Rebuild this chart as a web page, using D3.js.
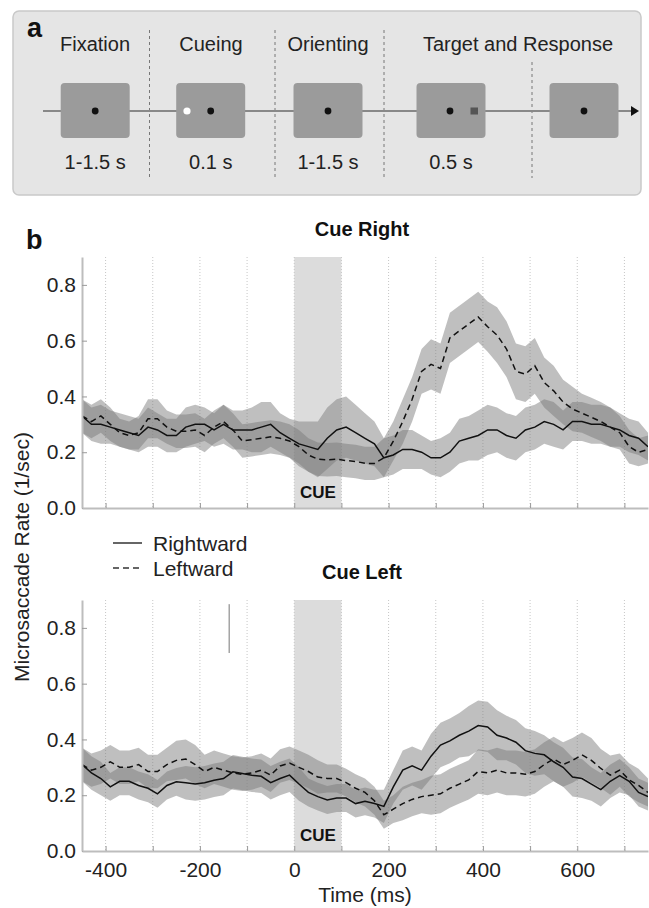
<!DOCTYPE html>
<html>
<head>
<meta charset="utf-8">
<script src="https://cdn.jsdelivr.net/npm/d3@7/dist/d3.min.js"></script>
<style>
  body { margin: 0; background: #fff; }
  svg { font-family: "Liberation Sans", Arial, sans-serif; }
</style>
</head>
<body>
<script>
// time grid (ms), 20 ms steps from -450 to 750
var times = d3.range(-450, 751, 20);

// Cue Right: mean rates and band half widths (1/sec)
var cueRightRightward = [0.33,0.30,0.30,0.29,0.28,0.27,0.26,0.29,0.28,0.26,0.26,0.29,0.30,0.30,0.28,0.30,0.28,0.28,
  0.28,0.29,0.30,0.27,0.25,
  0.23,0.22,0.21,0.25,0.28,0.29,0.27,0.25,0.23,0.18,
  0.19,0.21,0.21,0.20,0.18,0.18,0.20,0.24,0.25,0.26,
  0.28,0.28,0.26,0.25,0.28,0.29,0.31,0.30,0.28,0.31,
  0.31,0.30,0.30,0.29,0.28,0.26,0.25,0.22];
var cueRightLeftward = [0.33,0.31,0.33,0.30,0.27,0.26,0.27,0.32,0.32,0.29,0.275,0.275,0.28,0.26,0.29,0.31,0.28,0.24,
  0.245,0.25,0.255,0.25,0.24,
  0.22,0.19,0.175,0.173,0.175,0.17,0.167,0.16,0.16,0.18,
  0.24,0.31,0.39,0.49,0.515,0.50,0.61,0.635,0.66,0.685,
  0.65,0.62,0.57,0.49,0.48,0.51,0.45,0.42,0.38,0.355,
  0.34,0.325,0.31,0.29,0.27,0.22,0.20,0.21];
var cueRightRightwardErr = [0.06,0.06,0.07,0.06,0.06,0.06,0.06,0.07,0.06,0.06,0.06,0.07,0.07,0.06,0.06,0.07,0.07,0.07,
  0.08,0.09,0.08,0.07,0.07,
  0.08,0.09,0.10,0.11,0.11,0.11,0.10,0.09,0.08,0.07,
  0.07,0.07,0.07,0.06,0.06,0.07,0.07,0.08,0.08,0.09,
  0.09,0.08,0.08,0.08,0.08,0.08,0.08,0.08,0.07,0.07,
  0.07,0.07,0.07,0.07,0.06,0.06,0.06,0.05];
var cueRightLeftwardErr = [0.06,0.06,0.06,0.06,0.05,0.05,0.06,0.07,0.07,0.06,0.06,0.06,0.06,0.06,0.06,0.06,0.06,0.06,
  0.06,0.06,0.06,0.06,0.06,
  0.06,0.06,0.06,0.06,0.06,0.06,0.06,0.06,0.06,0.07,
  0.07,0.08,0.08,0.08,0.09,0.09,0.09,0.09,0.09,0.09,
  0.09,0.10,0.10,0.10,0.10,0.10,0.09,0.09,0.08,0.08,
  0.07,0.07,0.07,0.07,0.06,0.06,0.05,0.05];

// Cue Left
var cueLeftRightward = [0.31,0.28,0.26,0.23,0.25,0.25,0.235,0.225,0.205,0.235,0.248,0.245,0.24,0.245,0.254,0.26,0.284,0.278,
  0.272,0.268,0.245,0.26,0.272,
  0.24,0.21,0.195,0.183,0.19,0.19,0.17,0.178,0.17,0.16,
  0.23,0.29,0.305,0.29,0.34,0.38,0.395,0.415,0.43,0.45,
  0.445,0.415,0.405,0.39,0.36,0.35,0.345,0.32,0.30,0.265,
  0.26,0.24,0.22,0.25,0.27,0.25,0.21,0.195];
var cueLeftLeftward = [0.31,0.29,0.30,0.32,0.30,0.30,0.31,0.285,0.285,0.31,0.325,0.33,0.31,0.285,0.30,0.29,0.28,0.275,
  0.28,0.29,0.272,0.305,0.315,
  0.30,0.285,0.265,0.26,0.26,0.245,0.225,0.21,0.18,0.13,
  0.15,0.17,0.185,0.195,0.20,0.205,0.225,0.24,0.255,0.285,
  0.28,0.29,0.28,0.28,0.275,0.285,0.31,0.33,0.31,0.325,
  0.345,0.325,0.296,0.272,0.29,0.255,0.235,0.21];
var cueLeftRightwardErr = [0.06,0.06,0.06,0.05,0.05,0.05,0.05,0.05,0.05,0.05,0.05,0.06,0.06,0.06,0.06,0.06,0.06,0.06,
  0.06,0.06,0.06,0.06,0.06,
  0.06,0.05,0.05,0.05,0.05,0.05,0.05,0.05,0.05,0.06,
  0.06,0.07,0.07,0.07,0.08,0.08,0.08,0.08,0.09,0.09,
  0.09,0.09,0.08,0.08,0.08,0.08,0.07,0.07,0.07,0.07,
  0.07,0.06,0.06,0.06,0.06,0.05,0.05,0.05];
var cueLeftLeftwardErr = [0.06,0.06,0.06,0.06,0.06,0.06,0.06,0.06,0.06,0.06,0.07,0.07,0.07,0.06,0.06,0.06,0.06,0.06,
  0.06,0.06,0.06,0.06,0.06,
  0.06,0.06,0.06,0.05,0.05,0.05,0.05,0.05,0.05,0.05,
  0.05,0.06,0.06,0.06,0.07,0.07,0.07,0.07,0.07,0.08,
  0.08,0.08,0.08,0.08,0.08,0.08,0.08,0.08,0.08,0.08,
  0.08,0.08,0.07,0.07,0.06,0.06,0.06,0.05];

var xTickLabels = [-400, -200, 0, 200, 400, 600];
var gridTimes = [-400, -300, -200, -100, 0, 100, 200, 300, 400, 500, 600, 700];
var yTicks = [0, 0.2, 0.4, 0.6, 0.8];
var cueWindow = [0, 100];

// panel a
var phaseNames = ["Fixation", "Cueing", "Orienting", "Target and Response"];
var durations = ["1-1.5 s", "0.1 s", "1-1.5 s", "0.5 s", ""];

var width = 649, height = 908;
var svg = d3.select("body").append("svg")
  .attr("width", width)
  .attr("height", height);

// ---------- panel a : trial sequence ----------
var pa = svg.append("g");
pa.append("rect")
  .attr("x", 13).attr("y", 11).attr("width", 628).attr("height", 184)
  .attr("rx", 6)
  .attr("fill", "#e5e5e5").attr("stroke", "#c9c9c9").attr("stroke-width", 1.5);
pa.append("text").attr("x", 27).attr("y", 37)
  .attr("font-size", 27).attr("font-weight", "bold").attr("fill", "#111").text("a");

var phaseX = [95, 211, 328, 518];
pa.selectAll(".phase").data(phaseNames).enter().append("text")
  .attr("x", function(d, i) { return phaseX[i]; })
  .attr("y", 51)
  .attr("text-anchor", "middle").attr("font-size", 20).attr("fill", "#222")
  .text(function(d) { return d; });

var sepX = [149.5, 275, 384, 532];
pa.selectAll(".sep").data(sepX).enter().append("line")
  .attr("x1", function(d) { return d; }).attr("x2", function(d) { return d; })
  .attr("y1", function(d, i) { return i == 3 ? 62 : 30; }).attr("y2", 178)
  .attr("stroke", "#777").attr("stroke-width", 1).attr("stroke-dasharray", "3,3");

pa.append("line").attr("x1", 43).attr("x2", 632).attr("y1", 111).attr("y2", 111)
  .attr("stroke", "#888").attr("stroke-width", 2);
pa.append("path").attr("d", "M631,106 L639,111 L631,116 Z").attr("fill", "#111");

var boxCx = [95.2, 210.7, 328, 451, 584];
pa.selectAll(".scr").data(boxCx).enter().append("rect")
  .attr("x", function(d) { return d - 34.5; }).attr("y", 83)
  .attr("width", 69).attr("height", 55).attr("rx", 4)
  .attr("fill", "#9b9b9b");
// fixation dots
boxCx.forEach(function(cx, i) {
  var fx = (i == 3) ? 450 : cx;
  pa.append("circle").attr("cx", fx).attr("cy", 111).attr("r", 3.4).attr("fill", "#111");
});
pa.append("circle").attr("cx", 187).attr("cy", 111).attr("r", 3.6).attr("fill", "#fff");
pa.append("rect").attr("x", 470.5).attr("y", 107.5).attr("width", 7.5).attr("height", 7)
  .attr("fill", "#555");

pa.selectAll(".dur").data(durations).enter().append("text")
  .attr("x", function(d, i) { return boxCx[i]; })
  .attr("y", 169)
  .attr("text-anchor", "middle").attr("font-size", 20).attr("fill", "#222")
  .text(function(d) { return d; });

// ---------- panel b ----------
svg.append("text").attr("x", 26).attr("y", 249)
  .attr("font-size", 27).attr("font-weight", "bold").attr("fill", "#111").text("b");

var x = d3.scaleLinear().domain([-450, 750]).range([82, 648]);

function drawPanel(top, title, rightMean, leftMean, rightErr, leftErr, showLabels, id) {
  var y = d3.scaleLinear().domain([0, 0.9]).range([top + 251, top]);
  var g = svg.append("g");

  g.append("defs").append("clipPath").attr("id", id)
    .append("rect").attr("x", x(-450)).attr("y", top)
    .attr("width", x(750) - x(-450)).attr("height", y(0) - top);

  g.append("text").attr("x", 362).attr("y", top - 21)
    .attr("text-anchor", "middle").attr("font-size", 20).attr("font-weight", "bold")
    .attr("fill", "#111").text(title);

  g.append("rect")
    .attr("x", x(cueWindow[0])).attr("y", top)
    .attr("width", x(cueWindow[1]) - x(cueWindow[0])).attr("height", y(0) - top)
    .attr("fill", "#dcdcdc");

  g.selectAll(".grid").data(gridTimes).enter().append("line")
    .attr("x1", function(d) { return x(d); }).attr("x2", function(d) { return x(d); })
    .attr("y1", top).attr("y2", y(0))
    .attr("stroke", "#c6c6c6").attr("stroke-width", 1).attr("stroke-dasharray", "1,2");

  var plot = g.append("g").attr("clip-path", "url(#" + id + ")");

  var series = [
    { mean: rightMean, err: rightErr, dash: null },
    { mean: leftMean, err: leftErr, dash: "6,4" }
  ];

  series.forEach(function(s) {
    var band = d3.area()
      .x(function(d, i) { return x(times[i]); })
      .y0(function(d, i) { return y(d - s.err[i]); })
      .y1(function(d, i) { return y(d + s.err[i]); });
    plot.append("path").attr("d", band(s.mean))
      .attr("fill", "#7a7a7a").attr("fill-opacity", 0.48);
  });

  series.forEach(function(s) {
    var line = d3.line()
      .x(function(d, i) { return x(times[i]); })
      .y(function(d) { return y(d); });
    plot.append("path").attr("d", line(s.mean))
      .attr("fill", "none").attr("stroke", "#111").attr("stroke-width", 1.5)
      .attr("stroke-dasharray", s.dash);
  });

  g.append("text").attr("x", x(50)).attr("y", y(0) - 10)
    .attr("text-anchor", "middle").attr("font-size", 17).attr("font-weight", "bold")
    .attr("fill", "#111").text("CUE");

  var yAxis = g.append("g").attr("transform", "translate(" + x(-450) + ",0)")
    .call(d3.axisLeft(y).tickValues(yTicks).tickFormat(d3.format(".1f"))
      .tickSize(-5).tickSizeOuter(0).tickPadding(6));
  var xAxis = g.append("g").attr("transform", "translate(0," + y(0) + ")")
    .call(d3.axisBottom(x).tickValues(gridTimes)
      .tickFormat(function(d) { return (showLabels && xTickLabels.indexOf(d) >= 0) ? d : ""; })
      .tickSize(-5).tickSizeOuter(0).tickPadding(11));
  [yAxis, xAxis].forEach(function(a) {
    a.select(".domain").attr("stroke", "#bdbdbd").attr("stroke-width", 2);
    a.selectAll(".tick line").attr("stroke", "#9a9a9a");
    a.selectAll("text").attr("font-size", 21).attr("fill", "#222")
      .attr("font-family", "Liberation Sans, Arial, sans-serif");
  });
  return y;
}

drawPanel(257, "Cue Right", cueRightRightward, cueRightLeftward, cueRightRightwardErr, cueRightLeftwardErr, false, "clipTop");
var yBottom = drawPanel(600, "Cue Left", cueLeftRightward, cueLeftLeftward, cueLeftRightwardErr, cueLeftLeftwardErr, true, "clipBottom");

// stray marker seen in the lower panel
svg.append("line")
  .attr("x1", x(-138)).attr("x2", x(-138))
  .attr("y1", yBottom(0.885)).attr("y2", yBottom(0.71))
  .attr("stroke", "#777").attr("stroke-width", 1);

// legend
var legendItems = [
  { label: "Rightward", dash: null, y: 543 },
  { label: "Leftward", dash: "6,4", y: 568 }
];
legendItems.forEach(function(d) {
  svg.append("line").attr("x1", 113).attr("x2", 142).attr("y1", d.y).attr("y2", d.y)
    .attr("stroke", "#333").attr("stroke-width", 1.5).attr("stroke-dasharray", d.dash);
  svg.append("text").attr("x", 153).attr("y", d.y + 7.5)
    .attr("font-size", 21).attr("fill", "#222").text(d.label);
});

// axis titles
svg.append("text")
  .attr("transform", "translate(29,557) rotate(-90)")
  .attr("text-anchor", "middle").attr("font-size", 21).attr("fill", "#222")
  .text("Microsaccade Rate (1/sec)");
svg.append("text").attr("x", 365).attr("y", 902)
  .attr("text-anchor", "middle").attr("font-size", 21).attr("fill", "#222")
  .text("Time (ms)");
</script>
</body>
</html>
